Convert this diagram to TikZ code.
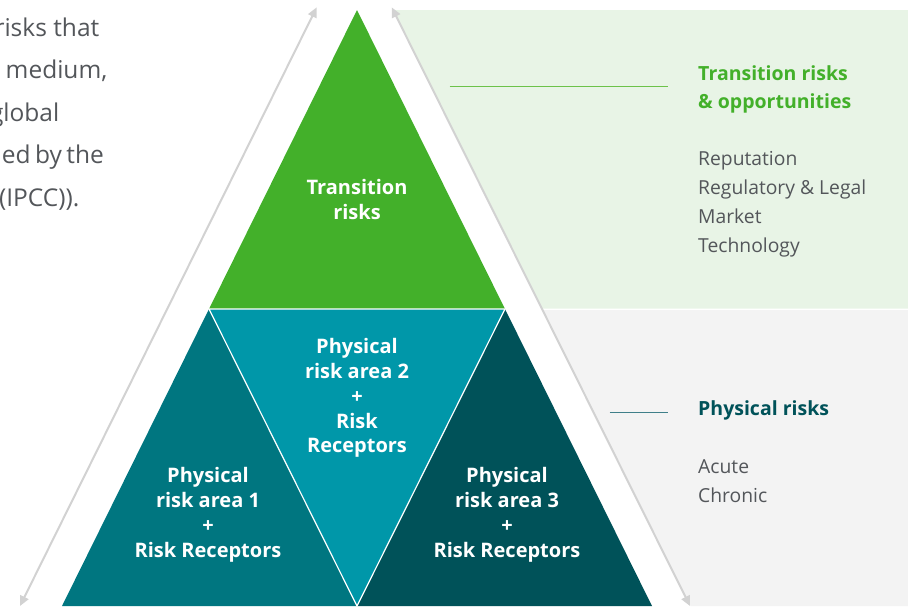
\documentclass[tikz,border=0pt]{standalone}
\usepackage{fontspec}
\setmainfont{Open Sans}
\usetikzlibrary{arrows.meta}

\definecolor{riskgreen}{HTML}{43B02A}
\definecolor{tealmid}{HTML}{0097A9}
\definecolor{tealleft}{HTML}{007680}
\definecolor{tealdark}{HTML}{005259}
\definecolor{panelgreen}{HTML}{E8F4E6}
\definecolor{panelgray}{HTML}{F3F3F3}
\definecolor{textgray}{HTML}{53565A}
\definecolor{axisgray}{HTML}{D2D2D2}
\definecolor{linegreen}{HTML}{6CC24A}
\definecolor{lineteal}{HTML}{3F7F89}

\tikzset{
  axisline/.style={draw=axisgray, line width=2pt,
    {Triangle[length=10pt,width=9pt]}-{Triangle[length=10pt,width=9pt]}},
  seam/.style={draw=white, line width=1.2pt},
  trilabel/.style={text=white, inner sep=0pt, align=center,
    font=\bfseries\fontsize{20}{24.8}\selectfont},
  headline/.style={inner sep=0pt, anchor=base west,
    font=\bfseries\fontsize{19.5}{24}\selectfont},
  bodyline/.style={inner sep=0pt, anchor=base west, text=textgray,
    font=\fontsize{19.3}{24}\selectfont},
  introline/.style={inner sep=0pt, anchor=base east, text=textgray,
    font=\fontsize{24.5}{28}\selectfont},
  leader/.style={line width=1.2pt},
}

\begin{document}
\begin{tikzpicture}[x=1pt,y=-1pt]
\useasboundingbox (0,0) rectangle (908,606);
\begin{scope}
\clip (0,0) rectangle (908,606);

% background panels, their left edge following the right-hand axis
\fill[panelgreen] (393,10) -- (908,10) -- (908,308.5) -- (542.3,308.5) -- cycle;
\fill[panelgray] (543,310) -- (908,310) -- (908,606) -- (690.5,606) -- cycle;

% pyramid corners
\coordinate (apex) at (357,10);
\coordinate (ml) at (209,309);
\coordinate (mr) at (505,309);
\coordinate (bl) at (62,606);
\coordinate (bm) at (357,606);
\coordinate (br) at (652,606);

\fill[riskgreen] (apex) -- (ml) -- (mr) -- cycle;
\fill[tealleft] (ml) -- (bl) -- (bm) -- cycle;
\fill[tealmid] (ml) -- (mr) -- (bm) -- cycle;
\fill[tealdark] (mr) -- (bm) -- (br) -- cycle;
\draw[seam] (ml) -- (mr) -- (bm) -- cycle;

% double-headed axes along both flanks
\coordinate (laxA) at (20,606);
\coordinate (laxB) at (316.7,7.3);
\coordinate (raxA) at (391.7,7.3);
\coordinate (raxB) at (690,606);
\draw[axisline] (laxA) -- (laxB);
\draw[axisline] (raxA) -- (raxB);

% labels inside the pyramid
\node[trilabel] (trans) at (357,199.5) {Transition\\risks};
\node[trilabel] (phys2) at (357,398) {Physical\\risk area 2\\+\\Risk\\Receptors};
\node[trilabel] (phys1) at (208,514.6) {Physical\\risk area 1\\+\\Risk Receptors};
\node[trilabel] (phys3) at (507,514.6) {Physical\\risk area 3\\+\\Risk Receptors};

% leader lines towards the legends
\coordinate (gA) at (449.5,86.7);
\coordinate (gB) at (668.3,86.7);
\coordinate (tA) at (609.5,412.7);
\coordinate (tB) at (668,412.7);
\draw[leader, linegreen] (gA) -- (gB);
\draw[leader, lineteal] (tA) -- (tB);

% transition legend
\node[headline, text=riskgreen] (th1) at (698,80) {Transition risks};
\node[headline, text=riskgreen] (th2) at (698,108.5) {\& opportunities};
\node[bodyline] (tb1) at (698,165) {Reputation};
\node[bodyline] (tb2) at (698,194) {Regulatory \& Legal};
\node[bodyline] (tb3) at (698,223) {Market};
\node[bodyline] (tb4) at (698,252) {Technology};

% physical legend
\node[headline, text=tealdark] (ph1) at (698,415) {Physical risks};
\node[bodyline] (pb1) at (698,473.3) {Acute};
\node[bodyline] (pb2) at (698,502) {Chronic};

% tail of the justified introductory paragraph
\node[introline] (i1) at (99.5,36) {risks that};
\node[introline] (i2) at (107.5,78.5) {medium,};
\node[introline] (i3) at (59.5,121) {global};
\node[introline] (i4) at (104,163.5) {\makebox[102pt][l]{ed\hfill by\hfill the}};
\node[introline] (i5) at (79.5,206) {(IPCC)).};
\end{scope}
\end{tikzpicture}
\end{document}
